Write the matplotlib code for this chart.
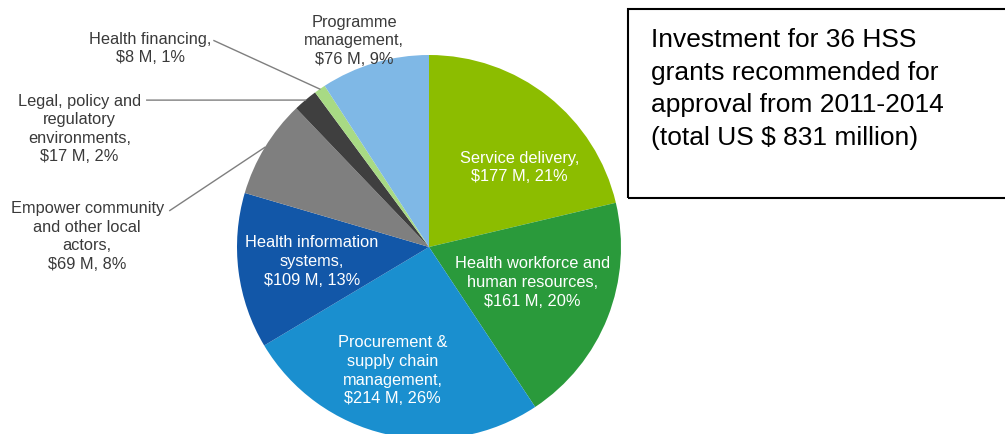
import numpy as np
import matplotlib
matplotlib.use("Agg")
import matplotlib.pyplot as plt
from matplotlib.patches import Rectangle

plt.rcParams['font.family'] = ['Liberation Sans', 'DejaVu Sans']

# HSS investment by area, US$ million (clockwise from 12 o'clock)
areas = ["Service delivery", "Health workforce and human resources",
         "Procurement & supply chain management", "Health information systems",
         "Empower community and other local actors",
         "Legal, policy and regulatory environments", "Health financing",
         "Programme management"]
amounts = [177, 161, 214, 109, 69, 17, 8, 76]
shares = [21, 20, 26, 13, 8, 2, 1, 9]
labels = ["Service delivery,\n$177 M, 21%",
          "Health workforce and\nhuman resources,\n$161 M, 20%",
          "Procurement &\nsupply chain\nmanagement,\n$214 M, 26%",
          "Health information\nsystems,\n$109 M, 13%",
          "Empower community\nand other local\nactors,\n$69 M, 8%",
          "Legal, policy and\nregulatory\nenvironments,\n$17 M, 2%",
          "Health financing,\n$8 M, 1%",
          "Programme\nmanagement,\n$76 M, 9%"]
colors = ["#8cbd00", "#2a9a3b", "#1a8fcf", "#1257a8",
          "#7f7f7f", "#3f3f3f", "#a8da84", "#7fb8e6"]

W, H = 1005, 435
fig = plt.figure(figsize=(W / 100, H / 100), dpi=100)
fig.patch.set_facecolor("white")

# pie centre (429, 248) px, radius 192 px
cx, cy, R = 429, 248, 192
ax = fig.add_axes([(cx - R) / W, (H - cy - R) / H, 2 * R / W, 2 * R / H])
wedges, _ = ax.pie(amounts, colors=colors, startangle=90, counterclock=False,
                   radius=1, wedgeprops=dict(linewidth=0))
ax.set_xlim(-1, 1)
ax.set_ylim(-1, 1)
ax.axis("off")

fs = 11.8
ls = 1.3
inside = {0: (0.47, 0.42), 1: (0.54, -0.18), 2: (-0.19, -0.64), 3: (-0.61, -0.07)}
for i, (x, y) in inside.items():
    ax.text(x, y, labels[i], color="white", fontsize=fs, ha="center", va="center",
            linespacing=ls)

txt_col = "#3a3a3a"
# programme management label above its slice
ax.text(-0.39, 1.08, labels[7], color=txt_col, fontsize=fs, ha="center",
        va="center", linespacing=ls)

# outside labels with leader lines: (label pos, line start)
outside = {6: ((-1.45, 1.04), (-1.12, 1.075)),
           5: ((-1.82, 0.62), (-1.47, 0.765)),
           4: ((-1.78, 0.06), (-1.35, 0.19))}
for i, (pos, start) in outside.items():
    ax.text(pos[0], pos[1], labels[i], color=txt_col, fontsize=fs, ha="center",
            va="center", linespacing=ls)
    w = wedges[i]
    ang = np.deg2rad((w.theta1 + w.theta2) / 2)
    ax.plot([start[0], np.cos(ang)], [start[1], np.sin(ang)], color="#7f7f7f",
            lw=1.0, clip_on=False)

# text box on the right
box = Rectangle((628 / W, (H - 199) / H), 1.0, 189 / H, transform=fig.transFigure,
                fill=False, edgecolor="black", linewidth=1.5)
fig.add_artist(box)
fig.text(651 / W, 1 - 28 / H,
         "Investment for 36 HSS\ngrants recommended for\napproval from 2011-2014\n(total US $ 831 million)",
         fontsize=19, ha="left", va="top", linespacing=1.45, color="black")

fig.savefig("out.png", dpi=100)
